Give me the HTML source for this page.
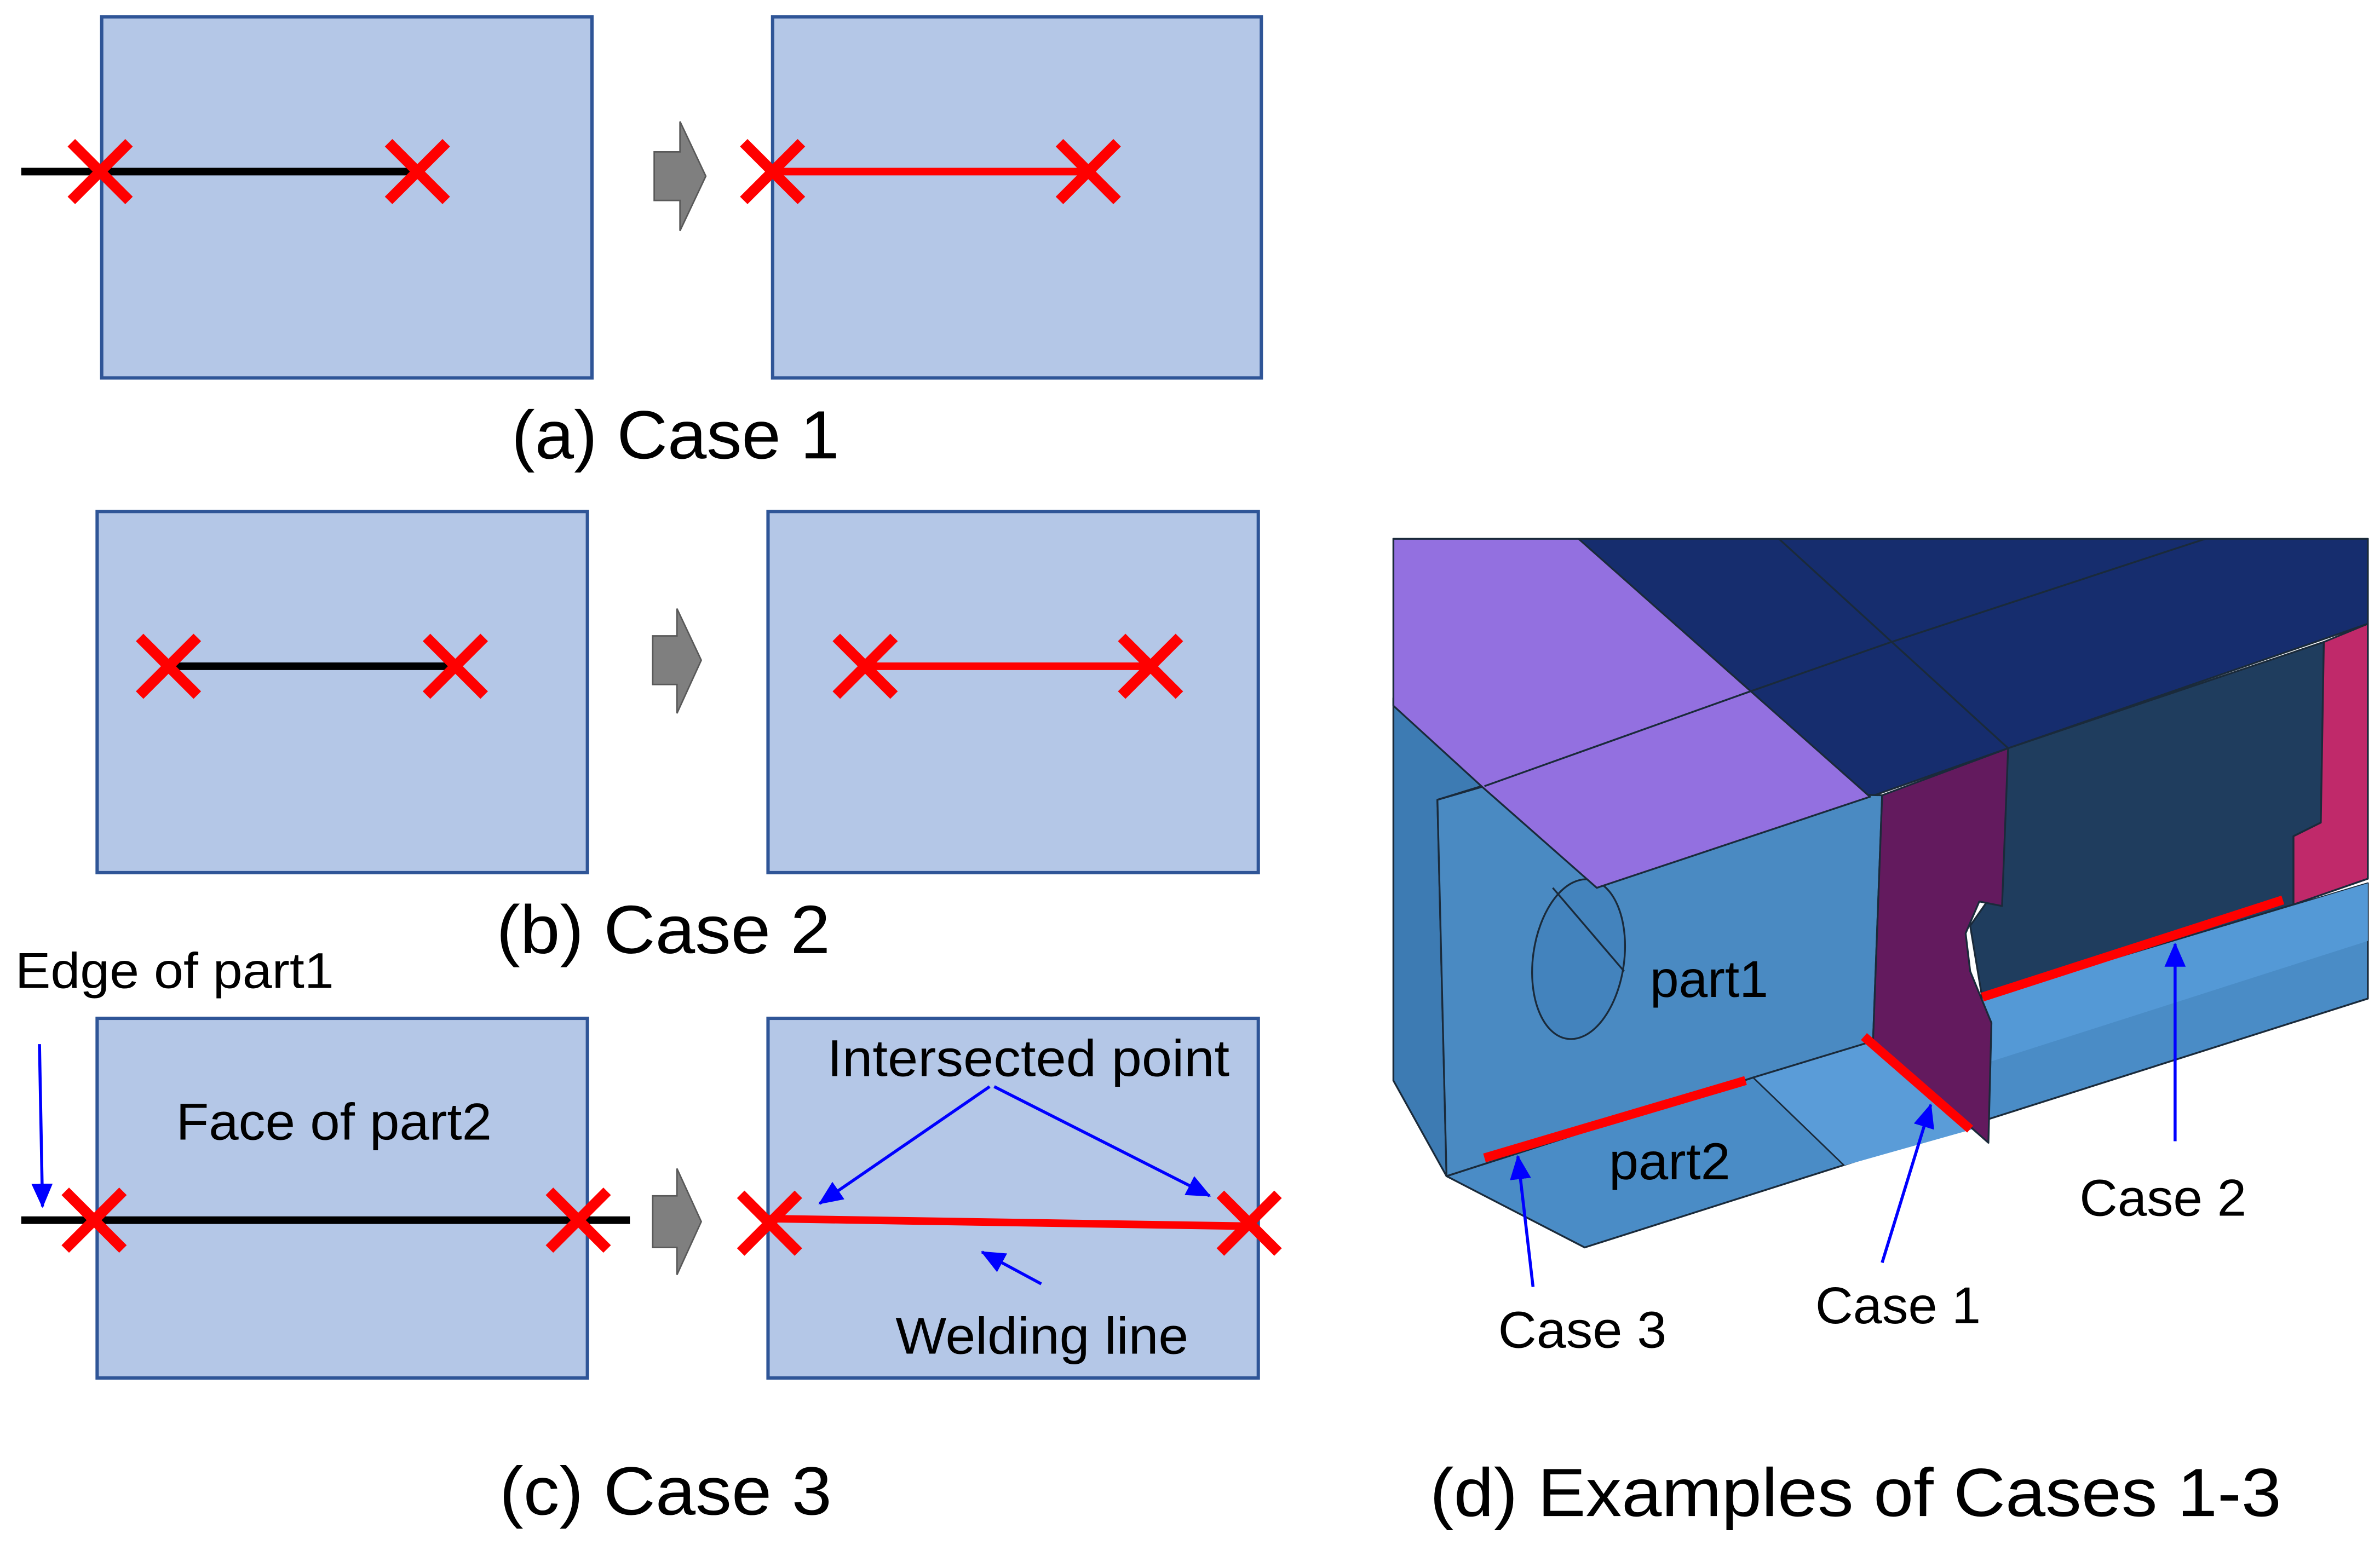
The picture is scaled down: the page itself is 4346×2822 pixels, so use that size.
<!DOCTYPE html>
<html><head><meta charset="utf-8"><style>
html,body{margin:0;padding:0;background:#fff}
svg{display:block}
text{font-family:"Liberation Sans",sans-serif;fill:#000}
</style></head><body>
<svg width="4346" height="2822" viewBox="0 0 1568 1018" xmlns="http://www.w3.org/2000/svg">
<defs>
<marker id="ah2" markerWidth="16" markerHeight="14" refX="15" refY="7" orient="auto" markerUnits="userSpaceOnUse" viewBox="0 0 16 14">
<path d="M0,0 L16,7 L0,14 z" fill="#0000ff"/></marker>
<g id="xm"><path d="M-19,-19 L19,19 M19,-19 L-19,19" stroke="#ff0000" stroke-width="7" fill="none"/></g>
</defs>
<g fill="#b4c7e7" stroke="#2f5597" stroke-width="2.2">
<rect x="67" y="11" width="323" height="238"/>
<rect x="509" y="11" width="322" height="238"/>
<rect x="64" y="337" width="323" height="238"/>
<rect x="506" y="337" width="323" height="238"/>
<rect x="64" y="671" width="323" height="237"/>
<rect x="506" y="671" width="323" height="237"/>
</g>
<g fill="#7f7f7f" stroke="#595959" stroke-width="1">
<polygon points="431,100 448,100 448,80 465,116 448,152 448,132 431,132"/>
<polygon points="430,419 446,419 446,401 462,435 446,470 446,451 430,451"/>
<polygon points="430,788 446,788 446,770 462,805 446,840 446,822 430,822"/>
</g>
<!-- a -->
<line x1="14" y1="113" x2="275" y2="113" stroke="#000" stroke-width="5"/>
<use href="#xm" x="66" y="113"/><use href="#xm" x="275" y="113"/>
<line x1="509" y1="113" x2="717" y2="113" stroke="#ff0000" stroke-width="5"/>
<use href="#xm" x="509" y="113"/><use href="#xm" x="717" y="113"/>
<text x="337" y="302" font-size="45" textLength="216" lengthAdjust="spacingAndGlyphs">(a) Case 1</text>
<!-- b -->
<line x1="111" y1="439" x2="300" y2="439" stroke="#000" stroke-width="5"/>
<use href="#xm" x="111" y="439"/><use href="#xm" x="300" y="439"/>
<line x1="570" y1="439" x2="758" y2="439" stroke="#ff0000" stroke-width="5"/>
<use href="#xm" x="570" y="439"/><use href="#xm" x="758" y="439"/>
<text x="327" y="628" font-size="45" textLength="220" lengthAdjust="spacingAndGlyphs">(b) Case 2</text>
<!-- c -->
<line x1="14" y1="804" x2="415" y2="804" stroke="#000" stroke-width="5"/>
<use href="#xm" x="62" y="804"/><use href="#xm" x="381" y="804"/>
<line x1="507" y1="803" x2="823" y2="808" stroke="#ff0000" stroke-width="5"/>
<use href="#xm" x="507" y="806"/><use href="#xm" x="823" y="806"/>
<text x="10" y="651" font-size="33" textLength="210" lengthAdjust="spacingAndGlyphs">Edge of part1</text>
<line x1="26" y1="688" x2="28" y2="795" stroke="#0000ff" stroke-width="2" marker-end="url(#ah2)"/>
<text x="116" y="751" font-size="34" textLength="208" lengthAdjust="spacingAndGlyphs">Face of part2</text>
<text x="545" y="709" font-size="34" textLength="265" lengthAdjust="spacingAndGlyphs">Intersected point</text>
<line x1="652" y1="716" x2="540" y2="793" stroke="#0000ff" stroke-width="2" marker-end="url(#ah2)"/>
<line x1="655" y1="716" x2="797" y2="788" stroke="#0000ff" stroke-width="2" marker-end="url(#ah2)"/>
<text x="590" y="892" font-size="34" textLength="193" lengthAdjust="spacingAndGlyphs">Welding line</text>
<line x1="686" y1="846" x2="647" y2="825" stroke="#0000ff" stroke-width="2" marker-end="url(#ah2)"/>
<text x="329" y="998" font-size="45" textLength="219" lengthAdjust="spacingAndGlyphs">(c) Case 3</text>
<!-- d 3D -->
<g stroke="#1a2a3a" stroke-width="1.2" stroke-linejoin="round">
<polygon points="918,355 1560,355 1560,411 1323,493 1232,525" fill="#162d6e"/>
<polygon points="1323,493 1531,423 1529,542 1511,551 1511,596 1306,658 1298,610 1312,590" fill="#1f3d5e"/>
<polygon points="1531,423 1560,411 1560,579 1511,596 1511,551 1529,542" fill="#c0296a"/>
<polygon points="953,775 1044,822 1560,658 1560,582 1306,658 1234,686 1155,710" fill="#4a8cc6"/>
<polygon points="1155,710 1234,686 1300,744 1215,768" fill="#5a9cd8" stroke="none"/>
<line x1="1155" y1="710" x2="1215" y2="768" stroke="#1a2a3a" stroke-width="1"/>
<polygon points="1306,658 1560,582 1560,620 1310,700" fill="#5499d6" stroke="none"/>
<polygon points="918,460 976,518 947,527 953,775 918,712" fill="#3d7bb3"/>
<polygon points="947,527 978,518 1240,524 1234,686 1155,710 953,775" fill="#4a8ac2"/>
<ellipse cx="1040" cy="632" rx="30" ry="53" transform="rotate(8 1040 632)" fill="#4383bd"/>
<line x1="1023" y1="585" x2="1070" y2="640" stroke-width="1.2"/>
<polygon points="918,355 1040,355 1232,525 1052,585 976,518 918,465" fill="#9370e0"/>
<polygon points="1240,524 1323,493 1319,597 1304,594 1295,615 1298,640 1312,674 1310,753 1234,686" fill="#631a5e"/>
<polyline points="978,518 1149,457 1246,423 1453,355" fill="none"/>
<line x1="1172" y1="355" x2="1323" y2="493"/>
</g>
<g stroke="#ff0000" stroke-width="6">
<line x1="978" y1="763" x2="1150" y2="712"/>
<line x1="1228" y1="683" x2="1298" y2="744"/>
<line x1="1306" y1="657" x2="1504" y2="593"/>
</g>
<text x="1087" y="657" font-size="34" textLength="78" lengthAdjust="spacingAndGlyphs">part1</text>
<text x="1060" y="777" font-size="34" textLength="80" lengthAdjust="spacingAndGlyphs">part2</text>
<line x1="1010" y1="848" x2="1000" y2="762" stroke="#0000ff" stroke-width="2" marker-end="url(#ah2)"/>
<line x1="1240" y1="832" x2="1272" y2="728" stroke="#0000ff" stroke-width="2" marker-end="url(#ah2)"/>
<line x1="1433" y1="752" x2="1433" y2="622" stroke="#0000ff" stroke-width="2" marker-end="url(#ah2)"/>
<text x="987" y="888" font-size="34" textLength="111" lengthAdjust="spacingAndGlyphs">Case 3</text>
<text x="1196" y="872" font-size="34" textLength="109" lengthAdjust="spacingAndGlyphs">Case 1</text>
<text x="1370" y="801" font-size="34" textLength="110" lengthAdjust="spacingAndGlyphs">Case 2</text>
<text x="942" y="999" font-size="45" textLength="561" lengthAdjust="spacingAndGlyphs">(d) Examples of Cases 1-3</text>
</svg>
</body></html>
